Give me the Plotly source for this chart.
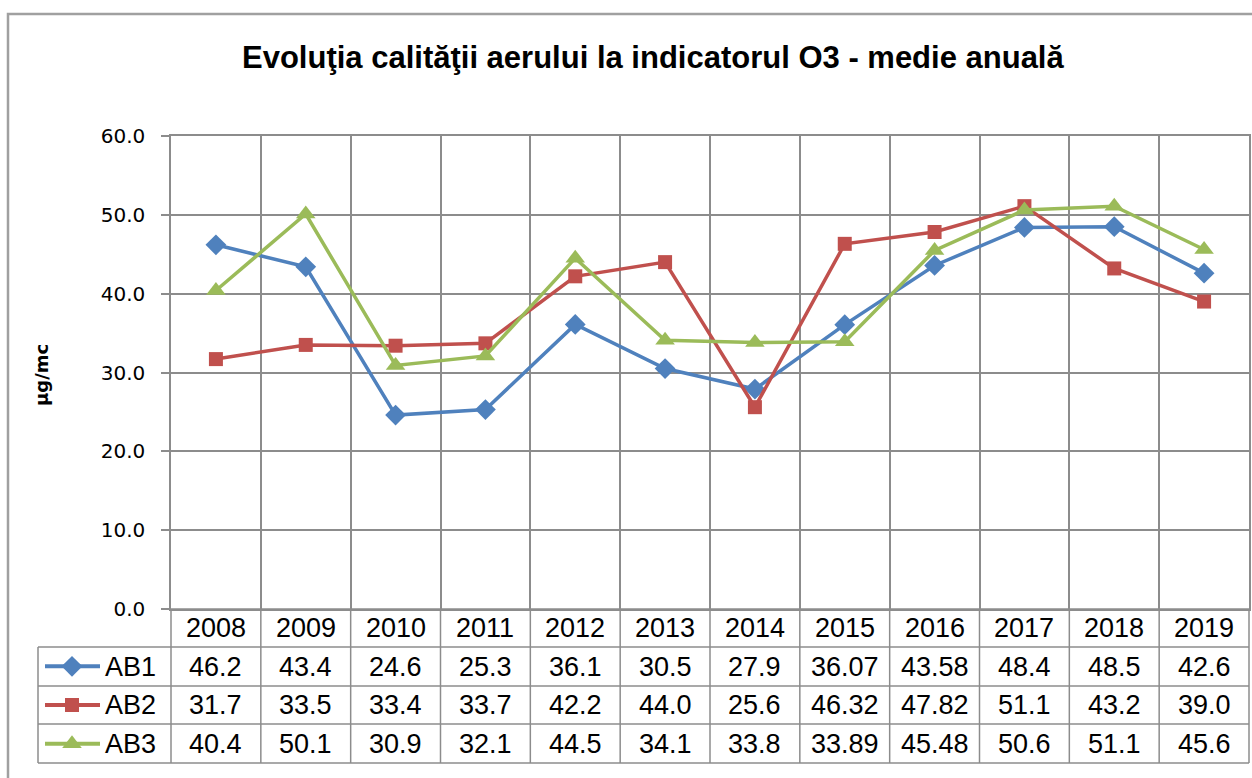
import plotly.graph_objects as go

# date
ANI = ["2008", "2009", "2010", "2011", "2012", "2013",
       "2014", "2015", "2016", "2017", "2018", "2019"]
AB1 = [46.2, 43.4, 24.6, 25.3, 36.1, 30.5, 27.9, 36.07, 43.58, 48.4, 48.5, 42.6]
AB2 = [31.7, 33.5, 33.4, 33.7, 42.2, 44.0, 25.6, 46.32, 47.82, 51.1, 43.2, 39.0]
AB3 = [40.4, 50.1, 30.9, 32.1, 44.5, 34.1, 33.8, 33.89, 45.48, 50.6, 51.1, 45.6]
SERII = ["AB1", "AB2", "AB3"]
Y_TICKS = [0, 10, 20, 30, 40, 50, 60]

TITLU = "Evoluţia calităţii aerului la indicatorul O3 - medie anuală"
Y_TITLU = "µg/mc"

ALBASTRU = "#4F81BD"
ROSU = "#C0504D"
VERDE = "#9BBB59"
GRI = "#8C8C8C"

W, H = 1252, 778


def px(x):
    return x / W


def py(y):
    return 1 - y / H


def fmt(v):
    return f"{v:.2f}" if round(v, 1) != v else f"{v:.1f}"


# geometrie (pixeli din imaginea de referinta)
X0, X1 = 171, 1249
Y_TOP, Y_AX = 136, 609
RANDURI = [609, 647, 686, 724, 763]
LEG_X0 = 38

stiluri = [
    (AB1, ALBASTRU, "diamond", 16),
    (AB2, ROSU, "square", 14),
    (AB3, VERDE, "triangle-up", 17),
]

fig = go.Figure()
for nume, (vals, col, simbol, sz) in zip(SERII, stiluri):
    fig.add_trace(go.Scatter(
        x=ANI, y=vals, mode="lines+markers", name=nume,
        line=dict(color=col, width=3.5),
        marker=dict(symbol=simbol, size=sz, color=col),
        showlegend=False,
    ))

# mostre legenda in tabel
for i, (nume, (vals, col, simbol, sz)) in enumerate(zip(SERII, stiluri)):
    r = i + 0.5
    fig.add_trace(go.Scatter(
        x=[(45 - LEG_X0) / 133, (100 - LEG_X0) / 133], y=[r, r], mode="lines",
        line=dict(color=col, width=4), xaxis="x2", yaxis="y2",
        showlegend=False, hoverinfo="skip",
    ))
    fig.add_trace(go.Scatter(
        x=[(72 - LEG_X0) / 133], y=[r], mode="markers",
        marker=dict(symbol=simbol, size=sz, color=col), xaxis="x2", yaxis="y2",
        showlegend=False, hoverinfo="skip",
    ))

shapes = []
# linii orizontale tabel
for k, yy in enumerate(RANDURI):
    x_st = X0 if k == 0 else LEG_X0
    shapes.append(dict(type="line", xref="paper", yref="paper",
                       x0=px(x_st), x1=px(X1), y0=py(yy), y1=py(yy),
                       line=dict(color=GRI, width=1.5)))
# linii verticale tabel
for i in range(len(ANI) + 1):
    xx = X0 + i * (X1 - X0) / len(ANI)
    shapes.append(dict(type="line", xref="paper", yref="paper",
                       x0=px(xx), x1=px(xx), y0=py(RANDURI[0]), y1=py(RANDURI[-1]),
                       line=dict(color=GRI, width=1.5)))
shapes.append(dict(type="line", xref="paper", yref="paper",
                   x0=px(LEG_X0), x1=px(LEG_X0), y0=py(RANDURI[1]), y1=py(RANDURI[-1]),
                   line=dict(color=GRI, width=1.5)))
# chenarul graficului
shapes.append(dict(type="rect", xref="paper", yref="paper",
                   x0=px(8), x1=1.02, y0=-0.05, y1=py(14),
                   line=dict(color="#A0A0A0", width=2.5), layer="below"))

anns = []
cf = dict(family="Liberation Sans, Arial, sans-serif", size=27, color="black")
# pe axa de categorii, pozitia adnotarii = indexul categoriei
for i, an in enumerate(ANI):
    anns.append(dict(x=i, xref="x", y=py((RANDURI[0] + RANDURI[1]) / 2), yref="paper",
                     text=an, showarrow=False, font=cf, xanchor="center", yanchor="middle"))
for k, (nume, vals) in enumerate(zip(SERII, [AB1, AB2, AB3])):
    yc = py((RANDURI[k + 1] + RANDURI[k + 2]) / 2)
    anns.append(dict(x=px(103), xref="paper", y=yc, yref="paper", text=nume,
                     showarrow=False, font=cf, xanchor="left", yanchor="middle"))
    for i, v in enumerate(vals):
        anns.append(dict(x=i, xref="x", y=yc, yref="paper", text=fmt(v),
                         showarrow=False, font=cf, xanchor="center", yanchor="middle"))
anns.append(dict(x=px(42), xref="paper", y=py(375), yref="paper", text=f"<b>{Y_TITLU}</b>",
                 textangle=-90, showarrow=False,
                 font=dict(family="DejaVu Sans", size=18, color="black"),
                 xanchor="center", yanchor="middle"))
anns.append(dict(x=px(653), xref="paper", y=py(57), yref="paper", text=f"<b>{TITLU}</b>",
                 showarrow=False,
                 font=dict(family="Liberation Sans, Arial, sans-serif", size=31, color="black"),
                 xanchor="center", yanchor="middle"))

fig.update_layout(
    width=W, height=H,
    margin=dict(l=0, r=0, t=0, b=0, autoexpand=False),
    paper_bgcolor="white", plot_bgcolor="white",
    shapes=shapes, annotations=anns,
    xaxis=dict(domain=[px(X0), px(X1)], type="category", tickson="boundaries",
               showgrid=True, gridcolor=GRI, gridwidth=1.5, showticklabels=False,
               ticks="", showline=True, linecolor=GRI, linewidth=1.5, mirror=True,
               range=[-0.5, len(ANI) - 0.5], fixedrange=True, automargin=False),
    yaxis=dict(domain=[py(Y_AX), py(Y_TOP)], range=[0, 60], tickvals=Y_TICKS,
               tickformat=".1f", showgrid=True, gridcolor=GRI, gridwidth=1.5,
               zeroline=False, showline=True, linecolor=GRI, linewidth=1.5, mirror=True,
               ticks="outside", ticklen=8, tickcolor=GRI, tickwidth=1.5,
               ticklabelstandoff=12, automargin=False,
               tickfont=dict(family="DejaVu Sans", size=20, color="black")),
    xaxis2=dict(domain=[px(LEG_X0), px(X0)], range=[0, 1], visible=False, anchor="y2"),
    yaxis2=dict(domain=[py(RANDURI[-1]), py(RANDURI[1])], range=[3, 0], visible=False,
                anchor="x2"),
)

# fara marginea implicita a paginii, ca figura sa inceapa din colt
fig.write_html("out.html", config={"displayModeBar": False},
               post_script="document.body.style.margin='0';")
